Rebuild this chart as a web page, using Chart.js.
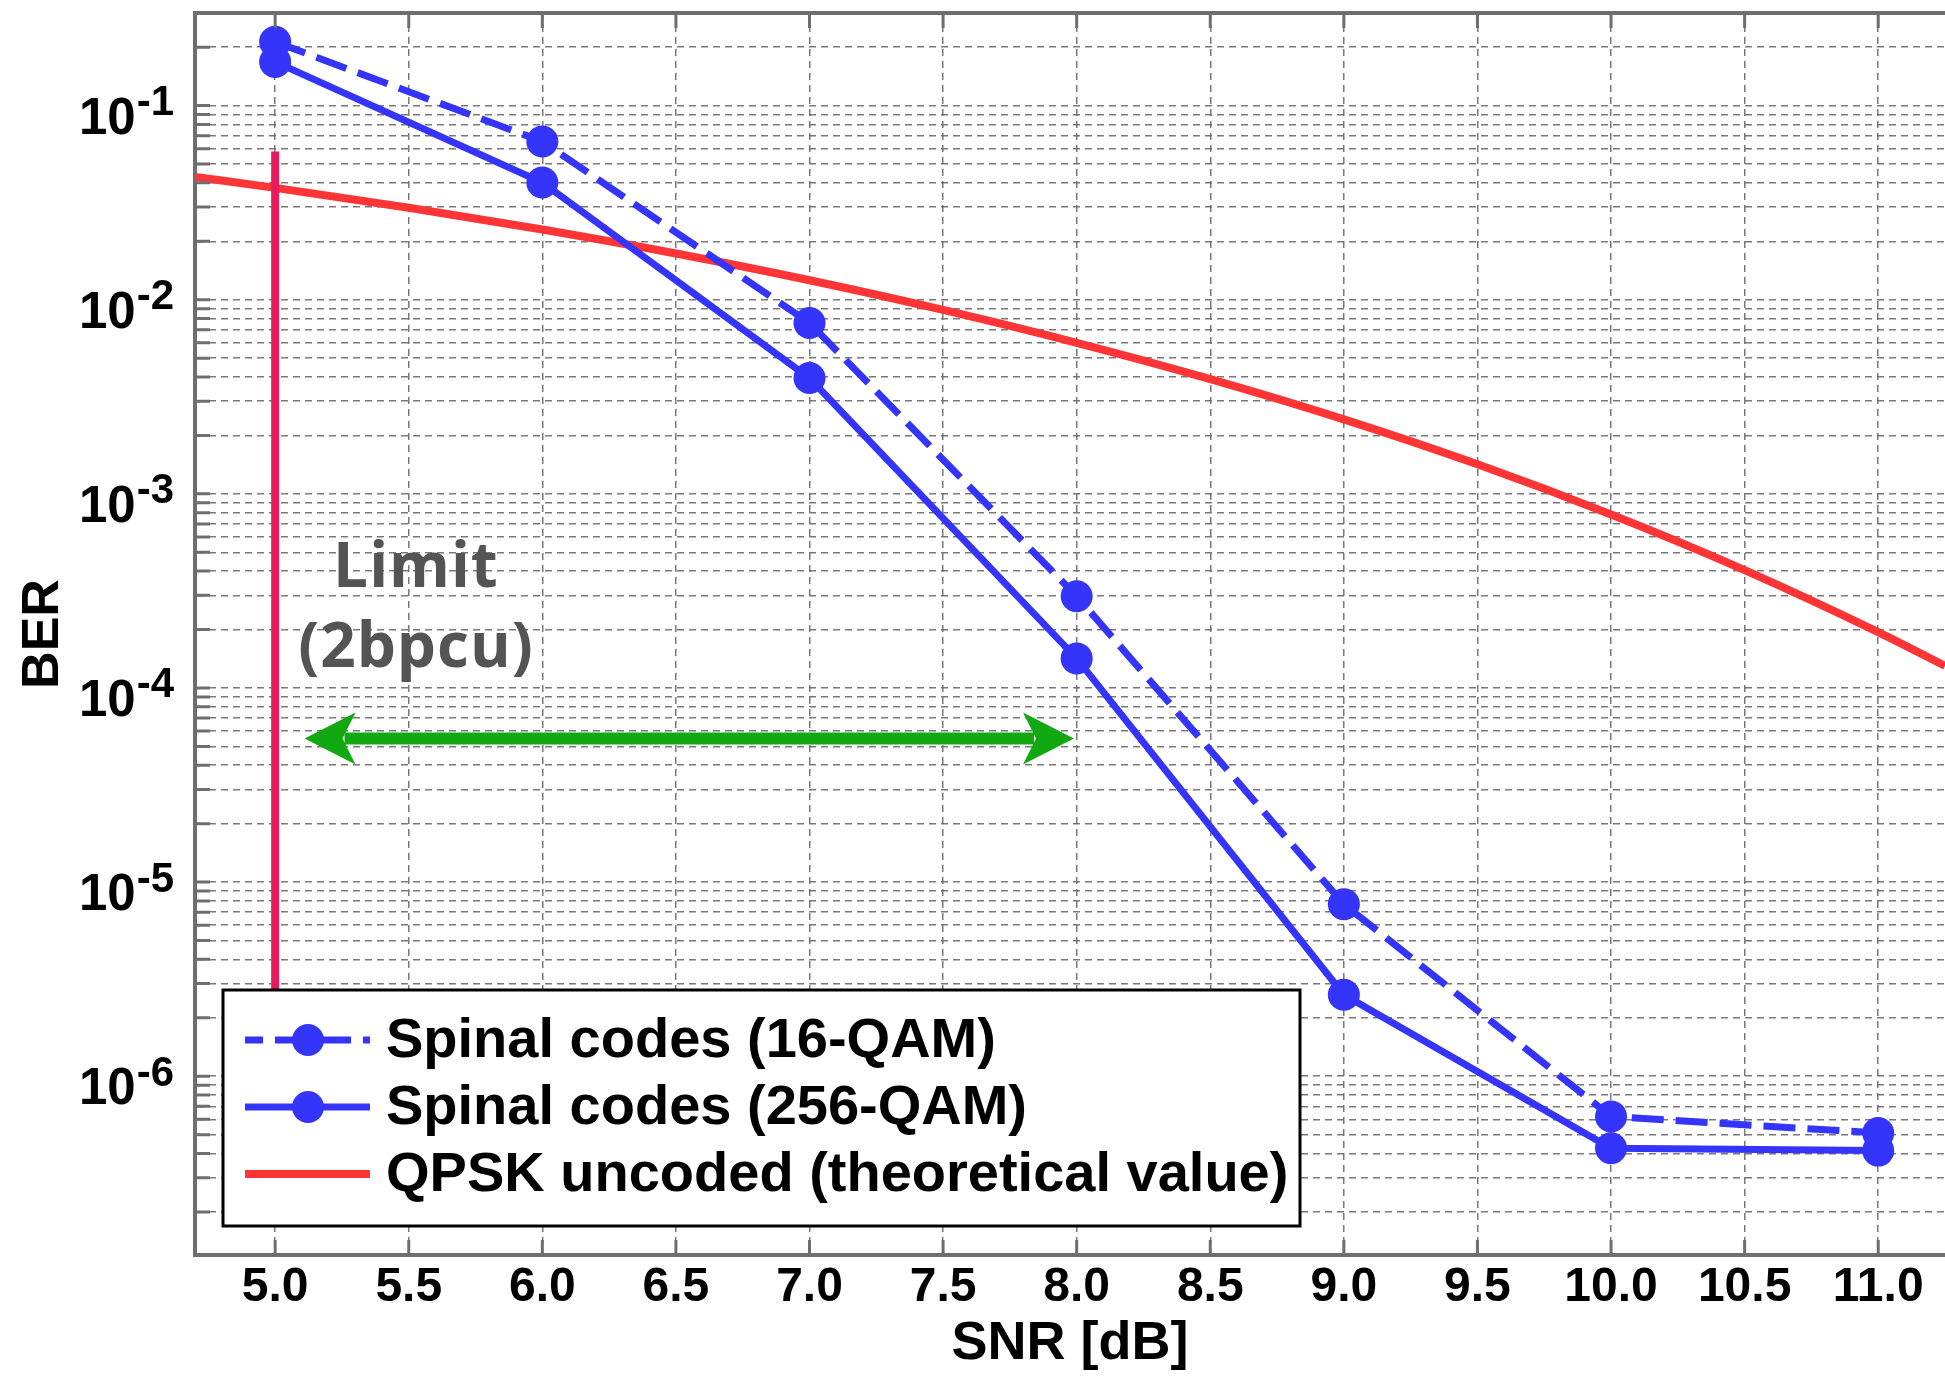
<!DOCTYPE html>
<html><head><meta charset="utf-8">
<script src="https://cdn.jsdelivr.net/npm/chart.js@4/dist/chart.umd.min.js"></script>
<style>html,body{margin:0;padding:0;background:#fff;}canvas{display:block;}</style>
</head><body>
<canvas id="c" width="1945" height="1377"></canvas>
<script>
// ---------- data ----------
const snrPoints = [5.0, 6.0, 7.0, 8.0, 9.0, 10.0, 11.0];
const ber16qam  = [0.213, 0.0653, 0.00759, 2.97e-4, 7.7e-6, 6.2e-7, 5.1e-7];
const ber256qam = [0.168, 0.0402, 0.00395, 1.42e-4, 2.63e-6, 4.26e-7, 4.14e-7];
const snrQpsk = [4.7, 5.0, 5.5, 6.0, 6.5, 7.0, 7.5, 8.0, 8.5, 9.0, 9.5, 10.0, 10.5, 11.0, 11.25];
const berQpsk = [0.0429, 0.0377, 0.0298, 0.0230, 0.0173, 0.0126, 0.00886, 0.00600, 0.00390, 0.00242, 0.00142, 7.83e-4, 4.05e-4, 1.94e-4, 1.30e-4];
const limitSnr = [5.0, 5.0];
const limitBer = [0.058, 1e-6];
const seriesLabels = ['Spinal codes (16-QAM)', 'Spinal codes (256-QAM)', 'QPSK uncoded (theoretical value)'];
const xTickValues = [5.0, 5.5, 6.0, 6.5, 7.0, 7.5, 8.0, 8.5, 9.0, 9.5, 10.0, 10.5, 11.0];
const yDecadeExps = [-1, -2, -3, -4, -5, -6];
const xTitle = 'SNR [dB]';
const yTitle = 'BER';
const xRange = [4.7, 11.25];
const yRange = [1.2e-7, 0.3];
const arrowSnr = [5.11, 7.99];
const arrowBer = 5.5e-5;
const limitTextLines = ['Limit', '(2bpcu)'];
const limitTextSnr = 5.527;
const limitTextBer = [3.33e-4, 1.29e-4];

// minor/major log grid values (1..9 x 10^n inside range)
const yGridValues = [];
for (let e = -7; e <= -1; e++) {
  for (let m = 1; m <= 9; m++) {
    const v = +(m * Math.pow(10, e)).toPrecision(3);
    if (v > yRange[0] && v < yRange[1]) yGridValues.push(v);
  }
}

const BLUE = '#3434fa', RED = '#ff3535', CRIMSON = '#e81b5e', GREEN = '#12a812', AXIS = '#6e6e6e';
const FONT = '"Liberation Sans", Arial, Helvetica, sans-serif';

const overlay = {
  id: 'overlay',
  afterDatasetsDraw(chart) {
    const ctx = chart.ctx, ca = chart.chartArea;
    const xs = chart.scales.x, ys = chart.scales.y;
    ctx.save();
    // inward tick marks
    ctx.strokeStyle = AXIS; ctx.lineWidth = 3; ctx.setLineDash([]);
    ctx.beginPath();
    yGridValues.forEach(v => { const p = ys.getPixelForValue(v); ctx.moveTo(ca.left, p); ctx.lineTo(ca.left + 15, p); });
    xTickValues.forEach(v => { const p = xs.getPixelForValue(v);
      ctx.moveTo(p, ca.bottom); ctx.lineTo(p, ca.bottom - 15);
      ctx.moveTo(p, ca.top); ctx.lineTo(p, ca.top + 15); });
    ctx.stroke();
    // top frame
    ctx.lineWidth = 4; ctx.beginPath(); ctx.moveTo(ca.left - 2, ca.top); ctx.lineTo(ca.right, ca.top); ctx.stroke();

    // green double arrow
    const ay = ys.getPixelForValue(arrowBer);
    const xa = xs.getPixelForValue(arrowSnr[0]), xb = xs.getPixelForValue(arrowSnr[1]);
    ctx.strokeStyle = GREEN; ctx.fillStyle = GREEN; ctx.lineWidth = 12;
    ctx.beginPath(); ctx.moveTo(xa + 40, ay); ctx.lineTo(xb - 40, ay); ctx.stroke();
    const head = (tip, dir) => {
      ctx.beginPath();
      ctx.moveTo(tip, ay);
      ctx.lineTo(tip + dir * 51, ay - 26);
      ctx.lineTo(tip + dir * 38, ay);
      ctx.lineTo(tip + dir * 51, ay + 26);
      ctx.closePath(); ctx.fill();
    };
    head(xa, 1); head(xb, -1);

    // limit text
    ctx.fillStyle = '#545454';
    ctx.font = 'bold 62px "Open Sans", Lato, sans-serif';
    ctx.textAlign = 'center'; ctx.textBaseline = 'alphabetic';
    try { ctx.letterSpacing = '1px'; } catch (e) {}
    const tx = xs.getPixelForValue(limitTextSnr);
    limitTextLines.forEach((t, i) => ctx.fillText(t, tx, ys.getPixelForValue(limitTextBer[i])));
    try { ctx.letterSpacing = '0px'; } catch (e) {}

    // legend box
    const lx = ca.left + 28, ly = ca.bottom - 265, lw = 1077, lh = 236;
    ctx.fillStyle = '#ffffff'; ctx.fillRect(lx, ly, lw, lh);
    ctx.strokeStyle = '#000000'; ctx.lineWidth = 3; ctx.setLineDash([]);
    ctx.strokeRect(lx, ly, lw, lh);
    const entries = chart.data.datasets.filter(d => d.inLegend);
    entries.forEach((d, i) => {
      const cy = ly + 50 + i * 67;
      ctx.strokeStyle = d.borderColor; ctx.lineWidth = d.borderWidth;
      ctx.setLineDash(d.borderDash || []);
      ctx.lineDashOffset = d.borderDash ? 14 : 0;
      ctx.beginPath(); ctx.moveTo(lx + 22, cy); ctx.lineTo(lx + 147, cy); ctx.stroke();
      ctx.setLineDash([]);
      if (d.pointRadius > 0) {
        ctx.fillStyle = d.pointBackgroundColor;
        ctx.beginPath(); ctx.arc(lx + 85, cy, 16, 0, Math.PI * 2); ctx.fill();
      }
      ctx.fillStyle = '#000'; ctx.font = 'bold 56px ' + FONT;
      ctx.textAlign = 'left'; ctx.textBaseline = 'alphabetic';
      ctx.fillText(d.label, lx + 163, ly + 67 + i * 67);
    });
    ctx.restore();
  },
  afterDraw(chart) {
    // y tick labels 10^n with superscript
    const ctx = chart.ctx, ys = chart.scales.y;
    ctx.save();
    ctx.fillStyle = '#000'; ctx.textAlign = 'right'; ctx.textBaseline = 'alphabetic';
    yDecadeExps.forEach(e => {
      const py = ys.getPixelForValue(Math.pow(10, e));
      const rx = ys.right - 21;
      const sup = String(e);
      ctx.font = 'bold 42px ' + FONT;
      ctx.fillText(sup, rx, py + 9.5);
      const w = ctx.measureText(sup).width;
      ctx.font = 'bold 51px ' + FONT;
      ctx.fillText('10', rx - w - 1, py + 28);
    });
    ctx.restore();
  }
};

const dash = [7, 5];
new Chart(document.getElementById('c'), {
  type: 'line',
  data: {
    datasets: [
      { label: seriesLabels[0], inLegend: true, order: 0,
        data: snrPoints.map((x, i) => ({x, y: ber16qam[i]})),
        borderColor: BLUE, backgroundColor: BLUE, borderWidth: 7, borderDash: [32, 12],
        pointRadius: 16, pointHoverRadius: 16, pointBackgroundColor: BLUE, pointBorderWidth: 0, tension: 0 },
      { label: seriesLabels[1], inLegend: true, order: 1,
        data: snrPoints.map((x, i) => ({x, y: ber256qam[i]})),
        borderColor: BLUE, backgroundColor: BLUE, borderWidth: 7,
        pointRadius: 16, pointHoverRadius: 16, pointBackgroundColor: BLUE, pointBorderWidth: 0, tension: 0 },
      { label: seriesLabels[2], inLegend: true, order: 3,
        data: snrQpsk.map((x, i) => ({x, y: berQpsk[i]})),
        borderColor: RED, backgroundColor: RED, borderWidth: 8, pointRadius: 0,
        cubicInterpolationMode: 'monotone' },
      { label: 'Limit (2bpcu)', inLegend: false, order: 2,
        data: limitSnr.map((x, i) => ({x, y: limitBer[i]})),
        borderColor: CRIMSON, backgroundColor: CRIMSON, borderWidth: 8, pointRadius: 0, borderCapStyle: 'butt' }
    ]
  },
  options: {
    responsive: false, animation: false, devicePixelRatio: 1,
    layout: { autoPadding: false, padding: { top: 13, right: 0, bottom: 0, left: 0 } },
    plugins: { legend: { display: false }, tooltip: { enabled: false } },
    scales: {
      x: {
        type: 'linear', min: xRange[0], max: xRange[1],
        afterBuildTicks: s => { s.ticks = xTickValues.map(v => ({ value: v })); },
        afterFit: s => { s.height = 122; s.paddingLeft = 0; s.paddingRight = 0; },
        ticks: { color: '#000', padding: 4, maxRotation: 0, autoSkip: false,
                 font: { family: FONT, size: 48, weight: 'bold' },
                 callback: v => Number(v).toFixed(1) },
        grid: { color: 'rgba(105,105,105,0.9)', lineWidth: 1.5, drawTicks: false },
        border: { display: true, color: AXIS, width: 4, dash: dash },
        title: { display: true, text: xTitle, color: '#000', padding: { top: 0, bottom: 0 },
                 font: { family: FONT, size: 54, weight: 'bold' } }
      },
      y: {
        type: 'logarithmic', min: yRange[0], max: yRange[1],
        afterBuildTicks: s => { s.ticks = yGridValues.map(v => ({ value: v })); },
        afterFit: s => { s.width = 195; s.paddingTop = 0; s.paddingBottom = 0; },
        ticks: { display: false },
        grid: { color: 'rgba(105,105,105,0.9)', lineWidth: 1.5, drawTicks: false },
        border: { display: true, color: AXIS, width: 4, dash: dash },
        title: { display: true, text: yTitle, color: '#000', padding: { top: 12, bottom: 0 },
                 font: { family: FONT, size: 52, weight: 'bold' } }
      }
    }
  },
  plugins: [overlay]
});
</script>
</body></html>
